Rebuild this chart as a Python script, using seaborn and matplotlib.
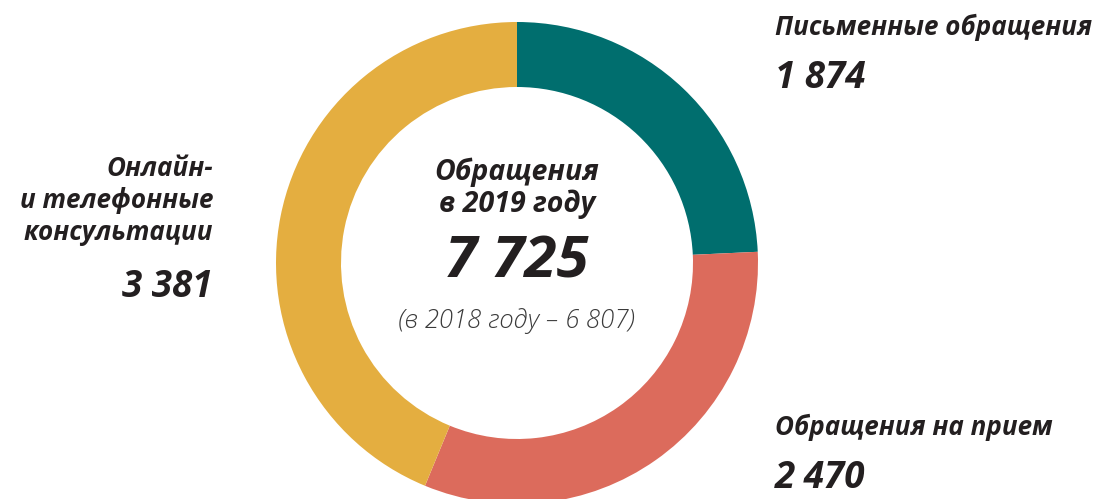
import matplotlib
matplotlib.use("Agg")
import matplotlib.pyplot as plt
import seaborn as sns

# Appeals in 2019 by channel
categories = ["Письменные обращения", "Обращения на прием", "Онлайн-\nи телефонные\nконсультации"]
values = [1874, 2470, 3381]
value_labels = ["1 874", "2 470", "3 381"]
total_label = "7 725"
center_title = "Обращения\nв 2019 году"
previous_label = "(в 2018 году – 6 807)"

sns.set_theme(style="white")
plt.rcParams["font.family"] = ["Open Sans", "DejaVu Sans"]

colors = ["#006E6E", "#DC6B5C", "#E4AE40"]
ink = "#231F20"

W, H = 1094, 499
fig = plt.figure(figsize=(W / 100, H / 100), dpi=100)
ax = fig.add_axes([0, 0, 1, 1])

cx, cy = 517, H - 263
R, r = 241, 176
ax.pie(values, colors=colors, startangle=90, counterclock=False,
       radius=R, center=(cx, cy), frame=True,
       wedgeprops=dict(width=R - r, linewidth=0))
ax.set_xlim(0, W)
ax.set_ylim(0, H)
ax.set_aspect("equal")
ax.axis("off")

def y(px):
    return H - px

lab = dict(fontsize=18.7, fontweight="bold", fontstyle="italic", color=ink)
num = dict(fontsize=26.5, fontweight="bold", fontstyle="italic", color=ink)

# right-hand labels
ax.text(775, y(35), categories[0], ha="left", va="baseline", **lab)
ax.text(775, y(88), value_labels[0], ha="left", va="baseline", **num)
ax.text(775, y(435), categories[1], ha="left", va="baseline", **lab)
ax.text(775, y(488), value_labels[1], ha="left", va="baseline", **num)

# left-hand label
ax.text(213, y(240), categories[2], ha="right", va="baseline",
        multialignment="right", linespacing=1.24, **lab)
ax.text(213, y(297), value_labels[2], ha="right", va="baseline", **num)

# centre
ax.text(cx, y(212), center_title, ha="center", va="baseline",
        linespacing=1.1, fontsize=20.5, fontweight="bold", fontstyle="italic", color=ink)
ax.text(cx, y(278), total_label, ha="center", va="baseline",
        fontsize=42, fontweight="bold", fontstyle="italic", color=ink)
ax.text(cx, y(328), previous_label, ha="center", va="baseline",
        fontsize=18.5, fontweight="light", fontstyle="italic", color="#3a3a3a")

fig.savefig("out.png", dpi=100)
